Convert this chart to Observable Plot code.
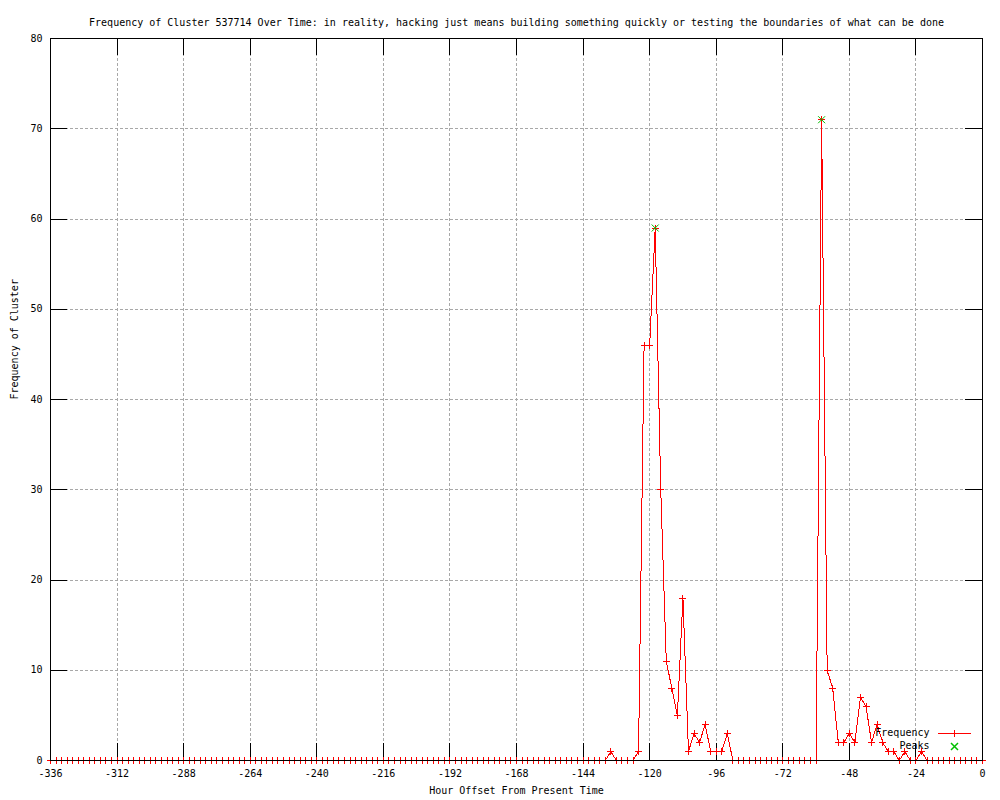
<!DOCTYPE html>
<html>
<head>
<meta charset="utf-8">
<script src="https://cdn.jsdelivr.net/npm/d3@7"></script>
<script src="https://cdn.jsdelivr.net/npm/@observablehq/plot@0.6"></script>
<style>
  html, body { margin: 0; padding: 0; background: #ffffff; }
  #chart svg { display: block; }
</style>
</head>
<body>
<div id="chart"></div>
<script>
// ---- data ----
const titleText = "Frequency of Cluster 537714 Over Time: in reality, hacking just means building something quickly or testing the boundaries of what can be done";
const xLabelText = "Hour Offset From Present Time";
const yLabelText = "Frequency of Cluster";
const seriesNames = ["Frequency", "Peaks"];

// hour offsets: -336 .. 0 every 2 hours
const hours = d3.range(-336, 1, 2);
// frequency at each hour offset (169 values)
const frequency = [
  0,0,0,0,0,0,0,0,0,0,   // -336 .. -318
  0,0,0,0,0,0,0,0,0,0,   // -316 .. -298
  0,0,0,0,0,0,0,0,0,0,   // -296 .. -278
  0,0,0,0,0,0,0,0,0,0,   // -276 .. -258
  0,0,0,0,0,0,0,0,0,0,   // -256 .. -238
  0,0,0,0,0,0,0,0,0,0,   // -236 .. -218
  0,0,0,0,0,0,0,0,0,0,   // -216 .. -198
  0,0,0,0,0,0,0,0,0,0,   // -196 .. -178
  0,0,0,0,0,0,0,0,0,0,   // -176 .. -158
  0,0,0,0,0,0,0,0,0,0,   // -156 .. -138
  0,1,0,0,0,0,1,46,46,59, // -136 .. -118
  30,11,8,5,18,1,3,2,4,1, // -116 .. -98
  1,1,3,0,0,0,0,0,0,0,   // -96 .. -78
  0,0,0,0,0,0,0,0,0,71,  // -76 .. -58
  10,8,2,2,3,2,7,6,2,4,  // -56 .. -38
  2,1,1,0,1,0,0,1,0,0,   // -36 .. -18
  0,0,0,0,0,0,0,0,0      // -16 .. 0
];
const peakHours = [-118, -58];
const peakValues = [59, 71];

const xTicks = [-336, -312, -288, -264, -240, -216, -192, -168, -144, -120, -96, -72, -48, -24, 0];
const yTicks = [0, 10, 20, 30, 40, 50, 60, 70, 80];

// ---- tables ----
const freqData = hours.map((h, i) => ({h, v: frequency[i]}));
const peakData = peakHours.map((h, i) => ({h, v: peakValues[i]}));

// ---- layout ----
const W = 1000, H = 800;
const mTop = 38, mRight = 18, mBottom = 40, mLeft = 50;
const innerW = W - mLeft - mRight;
const innerH = H - mTop - mBottom;
const TICK = 17;
const RED = "#ff0000", GREEN = "#00c000", GRID = "#a8a8a8";
const FONT = "'DejaVu Sans Mono', 'Liberation Mono', monospace";

// gnuplot-like stroke symbols
const plusSym = {draw(ctx) { ctx.moveTo(-3.5, 0); ctx.lineTo(3.5, 0); ctx.moveTo(0, -3.5); ctx.lineTo(0, 3.5); }};
const timesSym = {draw(ctx) { ctx.moveTo(-3.5, -3.5); ctx.lineTo(3.5, 3.5); ctx.moveTo(-3.5, 3.5); ctx.lineTo(3.5, -3.5); }};
const lineSampleSym = {draw(ctx) { ctx.moveTo(-16.5, 0); ctx.lineTo(16.5, 0); ctx.moveTo(0, -3.5); ctx.lineTo(0, 3.5); }};

const innerXTicks = xTicks.filter(d => d !== xTicks[0] && d !== xTicks[xTicks.length - 1]);
const innerYTicks = yTicks.filter(d => d !== yTicks[0] && d !== yTicks[yTicks.length - 1]);

const chart = Plot.plot({
  width: W,
  height: H,
  marginTop: mTop,
  marginRight: mRight,
  marginBottom: mBottom,
  marginLeft: mLeft,
  style: {fontFamily: FONT, fontSize: "10px", background: "#ffffff", color: "#000000"},
  x: {type: "linear", domain: [-336, 0]},
  y: {type: "linear", domain: [0, 80]},
  marks: [
    // grid
    Plot.gridX(innerXTicks, {stroke: GRID, strokeOpacity: 1, strokeDasharray: "3,2", shapeRendering: "crispEdges"}),
    Plot.gridY(innerYTicks, {stroke: GRID, strokeOpacity: 1, strokeDasharray: "3,2", shapeRendering: "crispEdges"}),
    // inward ticks on all four sides
    Plot.tickX(xTicks, {x: d => d, insetTop: innerH - TICK, stroke: "#000", shapeRendering: "crispEdges"}),
    Plot.tickX(xTicks, {x: d => d, insetBottom: innerH - TICK, stroke: "#000", shapeRendering: "crispEdges"}),
    Plot.tickY(yTicks, {y: d => d, insetRight: innerW - TICK, stroke: "#000", shapeRendering: "crispEdges"}),
    Plot.tickY(yTicks, {y: d => d, insetLeft: innerW - TICK, stroke: "#000", shapeRendering: "crispEdges"}),
    // axes labels
    Plot.axisX({ticks: xTicks, tickFormat: d => String(d), tickSize: 0, tickPadding: 9, label: null, fontSize: 10}),
    Plot.axisY({ticks: yTicks, tickFormat: d => String(d), tickSize: 0, tickPadding: 8, label: null, fontSize: 10}),
    // data
    Plot.line(freqData, {x: "h", y: "v", stroke: RED, strokeWidth: 1, shapeRendering: "crispEdges"}),
    Plot.dot(freqData, {x: "h", y: "v", symbol: plusSym, stroke: RED, fill: "none", strokeWidth: 1, shapeRendering: "crispEdges"}),
    Plot.dot(peakData, {x: "h", y: "v", symbol: timesSym, stroke: GREEN, fill: "none", strokeWidth: 1}),
    // border
    Plot.frame({stroke: "#000", shapeRendering: "crispEdges"}),
    // titles
    Plot.text([titleText], {text: d => d, frameAnchor: "top", dy: -20, fontSize: 10, fill: "#000"}),
    Plot.text([xLabelText], {text: d => d, frameAnchor: "bottom", dy: 33, fontSize: 10, fill: "#000"}),
    Plot.text([yLabelText], {text: d => d, frameAnchor: "left", dx: -36, rotate: -90, fontSize: 10, fill: "#000"}),
    // legend
    Plot.text([seriesNames[0]], {text: d => d, frameAnchor: "bottom-right", dx: -53, dy: -25, textAnchor: "end", fontSize: 10, fill: "#000"}),
    Plot.dot([seriesNames[0]], {frameAnchor: "bottom-right", dx: -28, dy: -27, symbol: lineSampleSym, stroke: RED, fill: "none", shapeRendering: "crispEdges"}),
    Plot.text([seriesNames[1]], {text: d => d, frameAnchor: "bottom-right", dx: -53, dy: -12, textAnchor: "end", fontSize: 10, fill: "#000"}),
    Plot.dot([seriesNames[1]], {frameAnchor: "bottom-right", dx: -28, dy: -14, symbol: timesSym, stroke: GREEN, fill: "none"})
  ]
});
document.getElementById("chart").appendChild(chart);
</script>
</body>
</html>
